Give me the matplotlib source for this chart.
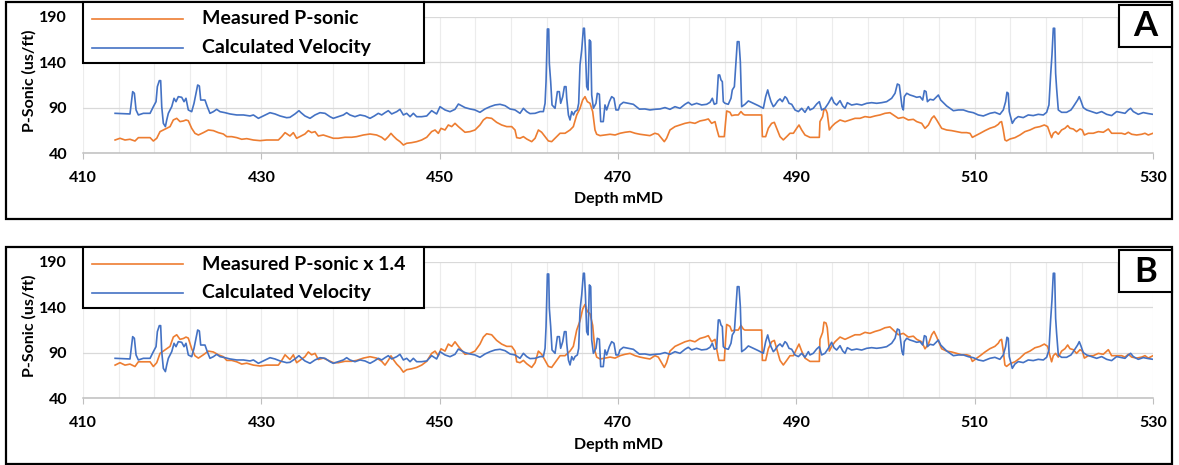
import numpy as np
import matplotlib
matplotlib.use('Agg')
import matplotlib.pyplot as plt
from matplotlib.patches import Rectangle
from matplotlib.lines import Line2D

plt.rcParams['font.family'] = ['Lato', 'DejaVu Sans']
plt.rcParams['font.weight'] = 'bold'

# Data (depth in mMD, P-sonic in us/ft)

calc_depth = [
    413.6, 415.27, 415.57, 415.76, 415.95, 416.21, 416.77, 417.52, 417.89, 418.19,
    418.34, 418.56, 418.71, 418.83, 419.01, 419.24, 419.39, 419.57, 419.95, 420.21,
    420.43, 420.69, 421.07, 421.33, 421.55, 421.81, 422.19, 422.45, 422.67, 422.86,
    423.05, 423.2, 423.68, 423.94, 424.24, 424.62, 424.99, 425.37, 425.93, 426.49,
    427.24, 427.99, 428.73, 429.11, 429.67, 430.22, 430.97, 431.53, 432.1, 432.84,
    433.21, 433.77, 434.22, 434.45, 434.89, 435.46, 436.02, 436.58, 437.14, 437.7,
    438.07, 438.63, 439.2, 439.57, 439.94, 440.5, 441.07, 441.63, 442.19, 442.67,
    443.12, 443.5, 443.87, 444.24, 444.62, 445.18, 445.55, 445.93, 446.3, 446.68,
    447.05, 447.42, 447.98, 448.55, 449.1, 449.66, 450.04, 450.6, 451.16, 451.72,
    452.1, 452.84, 453.4, 453.96, 454.52, 455.09, 455.65, 456.21, 456.77, 457.33,
    457.89, 458.45, 459.01, 459.39, 459.76, 460.13, 460.7, 461.26, 461.63, 461.82,
    461.93, 462.08, 462.23, 462.3, 462.45, 462.6, 462.94, 463.2, 463.42, 463.57,
    463.8, 463.99, 464.17, 464.25, 464.44, 464.62, 464.81, 465.0, 465.18, 465.44,
    465.59, 465.74, 465.93, 466.12, 466.23, 466.34, 466.49, 466.64, 466.79, 466.94,
    467.05, 467.24, 467.53, 467.68, 467.91, 468.06, 468.35, 468.54, 468.73, 469.03,
    469.29, 469.55, 469.77, 470.04, 470.22, 470.6, 471.16, 471.72, 472.4, 473.02,
    473.58, 474.14, 474.71, 475.27, 475.83, 476.39, 476.95, 477.51, 477.88, 478.26,
    478.82, 479.38, 479.94, 480.32, 480.58, 480.8, 481.06, 481.25, 481.4, 481.55,
    481.7, 481.81, 482.0, 482.37, 482.67, 482.82, 483.05, 483.23, 483.38, 483.57,
    483.72, 483.87, 484.24, 484.62, 485.18, 485.74, 486.3, 486.56, 486.79, 486.93,
    487.16, 487.42, 487.61, 487.91, 488.17, 488.43, 488.73, 488.92, 489.18, 489.48,
    489.85, 490.23, 490.6, 490.97, 491.35, 491.53, 491.9, 492.28, 492.58, 492.84,
    493.21, 493.59, 493.96, 494.22, 494.52, 494.9, 495.2, 495.46, 495.72, 496.2,
    496.77, 497.33, 497.89, 498.45, 499.01, 499.57, 500.13, 500.69, 501.07, 501.33,
    501.55, 501.7, 501.85, 502.0, 502.11, 502.38, 502.75, 503.12, 503.5, 503.87,
    504.17, 504.36, 504.55, 504.7, 504.99, 505.37, 505.74, 505.93, 506.19, 506.49,
    506.86, 507.23, 507.61, 508.17, 508.73, 509.29, 509.85, 510.41, 510.97, 511.71,
    512.27, 512.83, 513.21, 513.47, 513.62, 513.77, 513.88, 514.07, 514.22, 514.52,
    514.89, 515.45, 516.01, 516.57, 517.13, 517.7, 518.07, 518.33, 518.52, 518.67,
    518.82, 518.97, 519.08, 519.19, 519.38, 519.75, 520.31, 520.8, 521.06, 521.55,
    521.73, 521.92, 522.18, 522.56, 523.12, 523.68, 524.24, 524.8, 525.36, 525.92,
    526.3, 526.86, 527.23, 527.49, 527.79, 528.35, 528.91, 529.47, 530.0,
]
calc_vel = [
    83.9, 83.2, 107.7, 105.9, 87.6, 82.1, 83.9, 83.9, 91.2, 96.7,
    113.2, 119.8, 119.8, 91.2, 72.9, 69.3, 76.6, 83.9, 91.2, 100.4,
    96.7, 102.2, 101.5, 96.7, 100.4, 87.6, 85.7, 94.9, 105.9, 115.0,
    113.9, 98.5, 98.5, 91.2, 83.9, 85.7, 88.3, 85.7, 84.6, 83.2,
    82.1, 82.1, 81.0, 82.1, 78.4, 81.0, 84.6, 83.2, 81.0, 79.1,
    79.5, 83.2, 86.8, 84.6, 81.0, 78.4, 82.1, 84.6, 83.9, 80.2,
    78.4, 80.2, 82.1, 84.6, 82.1, 80.2, 82.1, 81.0, 78.4, 81.0,
    83.9, 82.1, 84.6, 86.8, 83.2, 85.7, 88.3, 82.1, 83.9, 80.2,
    83.9, 80.2, 80.2, 81.0, 86.8, 83.2, 91.2, 87.6, 85.7, 88.3,
    94.1, 90.2, 88.7, 87.6, 85.0, 88.7, 91.2, 93.1, 93.8, 92.3,
    88.7, 87.6, 83.9, 89.4, 85.8, 83.6, 83.9, 85.8, 85.8, 94.9,
    118.7, 176.5, 176.5, 138.8, 118.7, 93.1, 89.4, 107.7, 107.7, 94.9,
    102.2, 113.2, 113.2, 100.4, 82.1, 76.6, 85.8, 82.1, 85.8, 87.6,
    94.9, 137.0, 153.5, 177.3, 177.3, 155.3, 113.2, 109.6, 164.5, 162.6,
    104.1, 89.4, 94.9, 105.9, 104.8, 74.8, 74.8, 93.1, 87.6, 96.7,
    102.2, 100.4, 87.6, 87.6, 93.1, 96.0, 94.9, 93.8, 88.5, 88.7,
    87.6, 88.3, 88.7, 90.2, 88.3, 91.2, 89.4, 93.8, 96.0, 93.1,
    94.9, 93.1, 93.8, 96.0, 100.4, 93.8, 94.9, 126.0, 126.0, 120.5,
    118.7, 96.7, 94.9, 93.8, 100.4, 109.6, 113.2, 140.7, 162.6, 162.6,
    140.7, 91.2, 93.8, 97.5, 94.9, 92.3, 89.4, 102.2, 109.6, 104.1,
    96.7, 91.2, 93.1, 97.5, 99.7, 96.7, 102.2, 100.4, 94.9, 93.8,
    87.6, 85.8, 89.4, 85.0, 91.2, 87.6, 89.4, 94.1, 96.7, 87.6,
    89.4, 94.9, 101.5, 95.6, 93.0, 97.8, 92.0, 89.4, 95.6, 93.0,
    94.1, 93.0, 94.9, 95.6, 94.9, 95.6, 96.7, 100.4, 105.9, 116.1,
    115.0, 102.9, 91.2, 87.6, 102.2, 105.9, 104.0, 102.9, 101.5, 102.2,
    98.5, 108.8, 107.7, 96.7, 99.3, 98.5, 102.2, 104.0, 98.5, 95.6,
    92.0, 89.4, 86.8, 87.6, 87.6, 85.7, 84.6, 82.1, 81.0, 83.9,
    85.0, 82.8, 87.6, 96.7, 107.0, 105.9, 85.8, 78.4, 72.9, 77.7,
    80.3, 79.2, 82.1, 81.4, 82.8, 82.1, 85.0, 93.1, 126.0, 148.0,
    177.3, 177.3, 127.9, 111.4, 87.6, 85.0, 85.0, 87.6, 91.2, 98.6,
    102.2, 97.5, 90.2, 87.6, 85.8, 83.9, 85.8, 82.8, 81.4, 85.8,
    85.0, 83.9, 87.6, 89.4, 85.8, 82.8, 84.7, 83.6, 82.8,
]

meas_depth = [
    413.6, 414.15, 414.71, 415.27, 415.83, 416.21, 417.52, 417.89, 418.27, 418.64,
    419.01, 419.39, 419.76, 420.13, 420.51, 420.88, 421.26, 421.55, 421.81, 422.19,
    422.56, 422.94, 423.5, 424.06, 424.62, 425.18, 425.74, 426.12, 426.68, 427.24,
    427.8, 428.36, 429.11, 429.86, 430.6, 431.35, 431.91, 432.29, 432.66, 433.21,
    433.59, 433.96, 434.45, 434.89, 435.27, 435.64, 436.02, 436.39, 436.95, 437.51,
    438.07, 438.63, 439.38, 440.13, 440.69, 441.44, 442.19, 442.93, 443.49, 443.87,
    444.24, 444.54, 444.8, 445.18, 445.55, 445.93, 446.3, 446.86, 447.42, 447.98,
    448.55, 449.1, 449.48, 449.85, 450.15, 450.6, 450.97, 451.35, 451.72, 452.1,
    452.84, 453.4, 453.96, 454.52, 454.9, 455.27, 455.83, 456.39, 456.95, 457.52,
    458.08, 458.45, 458.64, 459.01, 459.39, 459.76, 460.32, 460.7, 461.07, 461.44,
    461.82, 462.19, 462.56, 462.94, 463.5, 464.06, 464.62, 464.99, 465.37, 465.74,
    466.04, 466.3, 466.56, 466.86, 467.16, 467.42, 467.61, 467.99, 468.55, 469.11,
    469.67, 470.23, 470.79, 471.35, 471.92, 472.46, 473.02, 473.58, 474.14, 474.52,
    474.89, 475.19, 475.45, 475.83, 476.39, 476.95, 477.51, 478.07, 478.63, 479.19,
    479.75, 480.13, 480.5, 480.88, 481.06, 481.32, 481.92, 482.07, 482.19, 482.56,
    482.75, 483.12, 483.49, 483.79, 484.06, 484.24, 486.11, 486.19, 486.56, 486.86,
    487.23, 487.53, 487.8, 488.17, 488.54, 488.92, 489.29, 489.67, 490.04, 490.3,
    490.6, 490.97, 491.35, 491.53, 492.58, 492.65, 492.95, 493.1, 493.33, 493.47,
    493.7, 493.96, 494.34, 494.9, 495.46, 496.02, 496.58, 497.14, 497.7, 498.26,
    498.82, 499.38, 499.94, 500.5, 500.88, 501.44, 502.0, 502.56, 503.12, 503.5,
    504.06, 504.43, 504.81, 505.18, 505.44, 505.74, 506.3, 506.86, 507.42, 507.98,
    508.54, 509.1, 509.48, 509.74, 510.04, 510.6, 511.16, 511.71, 512.27, 512.65,
    512.83, 513.02, 513.21, 513.39, 513.58, 513.96, 514.52, 515.08, 515.64, 516.2,
    516.76, 517.32, 517.81, 518.18, 518.44, 518.63, 518.82, 519.08, 519.38, 519.75,
    520.13, 520.43, 520.69, 521.06, 521.43, 521.81, 522.07, 522.3, 522.74, 523.3,
    523.87, 524.43, 524.99, 525.36, 525.92, 526.48, 526.86, 527.23, 527.61, 528.17,
    528.73, 529.1, 529.47, 530.0,
]
meas_sonic = [
    54.6, 56.5, 54.6, 55.4, 53.5, 57.2, 57.2, 53.5, 56.5, 63.8,
    65.6, 67.4, 69.3, 76.6, 78.4, 74.8, 75.5, 76.6, 75.8, 67.4,
    61.9, 60.1, 62.7, 65.6, 64.9, 62.7, 61.2, 58.3, 58.3, 57.2,
    55.4, 56.1, 54.6, 53.9, 54.6, 54.6, 54.6, 58.3, 62.7, 59.0,
    62.7, 56.5, 59.0, 61.2, 64.9, 62.7, 63.8, 59.0, 60.1, 58.3,
    56.5, 56.5, 57.6, 57.6, 58.3, 60.1, 61.2, 60.1, 57.6, 54.6,
    58.3, 61.9, 59.0, 55.4, 52.8, 49.1, 51.0, 51.7, 52.8, 54.6,
    57.6, 63.8, 65.6, 61.9, 67.4, 65.6, 71.1, 69.3, 72.9, 69.3,
    63.1, 63.8, 65.6, 71.1, 76.6, 79.2, 78.4, 74.0, 71.1, 69.3,
    69.3, 65.6, 57.2, 56.5, 58.3, 55.7, 52.8, 56.5, 65.6, 63.1,
    58.3, 53.6, 52.8, 56.5, 62.0, 62.0, 65.6, 69.3, 82.1, 89.4,
    98.6, 102.2, 96.7, 94.9, 85.8, 65.6, 60.9, 59.4, 60.1, 60.9,
    60.1, 62.0, 63.1, 63.8, 62.0, 60.9, 60.1, 59.4, 62.0, 60.9,
    56.5, 52.8, 56.5, 65.6, 69.3, 71.1, 72.9, 74.0, 72.9, 75.5,
    76.6, 77.7, 72.9, 74.8, 67.5, 58.3, 58.3, 74.8, 86.5, 85.0,
    81.4, 82.1, 82.1, 85.8, 82.8, 82.1, 82.1, 58.3, 58.3, 67.5,
    72.9, 74.0, 67.5, 58.3, 54.7, 58.3, 62.0, 62.0, 67.5, 71.1,
    65.6, 60.1, 58.3, 57.5, 57.5, 74.8, 80.3, 88.3, 87.6, 83.9,
    65.6, 69.3, 72.9, 76.6, 74.8, 76.6, 78.4, 78.4, 80.3, 79.5,
    81.0, 82.1, 83.9, 84.6, 82.1, 78.4, 79.5, 76.6, 77.3, 74.8,
    72.9, 67.4, 71.1, 78.4, 81.0, 76.6, 67.4, 65.6, 64.9, 63.8,
    62.7, 62.7, 61.9, 57.5, 59.0, 61.9, 64.9, 67.5, 69.3, 71.8,
    74.0, 74.8, 65.6, 54.7, 53.6, 55.7, 57.2, 60.1, 63.8, 65.6,
    68.2, 69.3, 71.1, 69.3, 62.0, 57.2, 62.0, 63.8, 60.9, 65.6,
    67.5, 70.4, 67.5, 66.7, 63.8, 66.7, 65.6, 60.1, 62.0, 62.0,
    63.8, 63.1, 66.7, 62.0, 62.0, 62.0, 60.9, 63.1, 60.9, 60.1,
    60.9, 62.0, 60.1, 62.0,
]

scale_b = 1.4

panels = [
    ('A', 'Measured P-sonic', 1.0),
    ('B', 'Measured P-sonic x 1.4', scale_b),
]

x_ticks = [410, 430, 450, 470, 490, 510, 530]
y_ticks = [40, 90, 140, 190]

ORANGE = '#ED7D31'
BLUE = '#4472C4'

W, H = 1179, 465
fig = plt.figure(figsize=(W / 100, H / 100), dpi=100)


def fx(px):
    return px / W


def fy(py):
    return 1 - py / H


def add_rect(x0, y0, x1, y1, lw=1.5, z=5):
    r = Rectangle((fx(x0), fy(y1)), fx(x1) - fx(x0), fy(y0) - fy(y1),
                  transform=fig.transFigure, facecolor='white',
                  edgecolor='black', linewidth=lw, zorder=z)
    fig.add_artist(r)
    return r


def draw_panel(tag, meas_label, scale, off):
    # outer box round the panel
    add_rect(6, 2.5 + off, 1172, 219 + off, lw=1.6, z=0)

    ax = fig.add_axes([fx(83), fy(153.3 + off), fx(1153) - fx(83),
                       fy(16.7 + off) - fy(153.3 + off)])
    ax.set_zorder(2)
    ax.patch.set_alpha(0)
    ax.plot(meas_depth, np.array(meas_sonic) * scale, color=ORANGE, lw=1.2)
    ax.plot(calc_depth, calc_vel, color=BLUE, lw=1.2)

    ax.set_xlim(410, 530)
    ax.set_ylim(40, 190)
    ax.set_xticks(x_ticks)
    ax.set_yticks(y_ticks)
    ax.set_xticks(np.arange(410, 531, 4), minor=True)
    ax.grid(axis='x', which='both', color='#ececec', lw=0.8)
    ax.grid(axis='y', which='major', color='#d9d9d9', lw=0.9)
    ax.set_axisbelow(True)
    for s in ['top', 'right', 'left']:
        ax.spines[s].set_visible(False)
    ax.spines['bottom'].set_color('#bfbfbf')
    ax.spines['bottom'].set_linewidth(1.1)
    ax.tick_params(axis='x', which='major', length=4, color='#bfbfbf',
                   labelsize=11.5, pad=9)
    ax.tick_params(axis='x', which='minor', length=0)
    ax.tick_params(axis='y', length=0, labelsize=11.5, pad=11.5)
    for lab in ax.get_xticklabels() + ax.get_yticklabels():
        lab.set_fontweight('bold')

    fig.text(fx(29.2), fy(80.5 + off), 'P-Sonic (us/ft)', rotation=90,
             ha='center', va='center', fontsize=11.5, fontweight='bold')
    fig.text(fx(618.5), fy(199.5 + off), 'Depth mMD', ha='center',
             va='center', fontsize=11.5, fontweight='bold')

    # legend
    add_rect(83, 2.5 + off, 424, 63.3 + off)
    for py, col, txt in [(19 + off, ORANGE, meas_label),
                         (47.7 + off, BLUE, 'Calculated Velocity')]:
        fig.add_artist(Line2D([fx(92), fx(183)], [fy(py), fy(py)],
                              color=col, lw=1.2, transform=fig.transFigure,
                              zorder=6))
        fig.text(fx(201.7), fy(py), txt, ha='left', va='center',
                 fontsize=14, fontweight='bold', zorder=6)

    # panel tag
    add_rect(1119, 5 + off, 1172, 47 + off)
    fig.text(fx(1145.5), fy(26.5 + off), tag, ha='center', va='center',
             fontsize=25, fontweight='bold', zorder=6)
    return ax


for i, (tag, lab, sc) in enumerate(panels):
    draw_panel(tag, lab, sc, 0 if i == 0 else 245)

fig.savefig('out.png', dpi=100)
